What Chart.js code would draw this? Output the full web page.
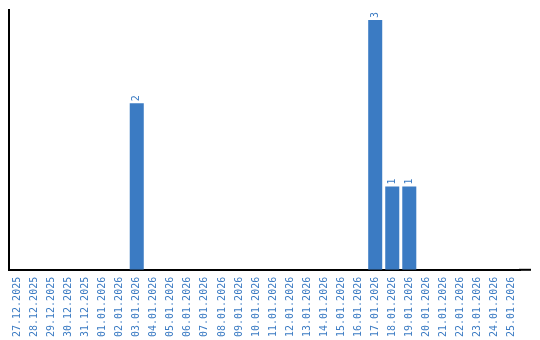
<!DOCTYPE html>
<html>
<head>
<meta charset="utf-8">
<script src="https://cdn.jsdelivr.net/npm/chart.js@4/dist/chart.umd.min.js"></script>
<style>
  html, body { margin: 0; padding: 0; background: #fff; }
  #wrap { width: 540px; height: 340px; }
</style>
</head>
<body>
<div id="wrap"><canvas id="c" width="540" height="340"></canvas></div>
<script>
// Dates shown on the x axis
const dates = [
  '27.12.2025', '28.12.2025', '29.12.2025', '30.12.2025', '31.12.2025',
  '01.01.2026', '02.01.2026', '03.01.2026', '04.01.2026', '05.01.2026',
  '06.01.2026', '07.01.2026', '08.01.2026', '09.01.2026', '10.01.2026',
  '11.01.2026', '12.01.2026', '13.01.2026', '14.01.2026', '15.01.2026',
  '16.01.2026', '17.01.2026', '18.01.2026', '19.01.2026', '20.01.2026',
  '21.01.2026', '22.01.2026', '23.01.2026', '24.01.2026', '25.01.2026',
];
// Count per day
const counts = [
  0, 0, 0, 0, 0,
  0, 0, 2, 0, 0,
  0, 0, 0, 0, 0,
  0, 0, 0, 0, 0,
  0, 3, 1, 1, 0,
  0, 0, 0, 0, 0,
];

const BLUE = '#3b7bc3';
const FONT = "'DejaVu Sans Mono', monospace";

// rotated value labels above non-zero bars
const barLabels = {
  id: 'barLabels',
  afterDatasetsDraw(chart) {
    const { ctx } = chart;
    const meta = chart.getDatasetMeta(0);
    ctx.save();
    ctx.fillStyle = BLUE;
    ctx.font = '10px ' + FONT;
    ctx.textAlign = 'left';
    ctx.textBaseline = 'middle';
    meta.data.forEach((bar, i) => {
      const v = counts[i];
      if (!v) return;
      ctx.save();
      ctx.translate(bar.x, bar.y - 2);
      ctx.rotate(-Math.PI / 2);
      ctx.fillText(String(v), 0, 0);
      ctx.restore();
    });
    ctx.restore();
  },
};

// the x axis line runs a bit past the last category
const axisTail = {
  id: 'axisTail',
  afterDraw(chart) {
    const { ctx, chartArea } = chart;
    ctx.save();
    ctx.strokeStyle = '#000';
    ctx.lineWidth = 2;
    ctx.beginPath();
    ctx.moveTo(chartArea.right - 1, chartArea.bottom);
    ctx.lineTo(531, chartArea.bottom);
    ctx.stroke();
    ctx.restore();
  },
};

new Chart(document.getElementById('c').getContext('2d'), {
  type: 'bar',
  data: {
    labels: dates,
    datasets: [{
      data: counts,
      backgroundColor: BLUE,
      borderWidth: 0,
      categoryPercentage: 14 / 17,
      barPercentage: 1,
    }],
  },
  options: {
    responsive: false,
    animation: false,
    layout: { padding: { left: 9, top: 10, right: 20, bottom: -4 } },
    plugins: { legend: { display: false }, tooltip: { enabled: false } },
    scales: {
      x: {
        grid: { display: false, drawTicks: false },
        border: { display: true, color: '#000', width: 2 },
        ticks: {
          color: BLUE,
          font: { family: FONT, size: 10 },
          minRotation: 90,
          maxRotation: 90,
          autoSkip: false,
          padding: 7,
        },
      },
      y: {
        min: 0,
        max: 3.12,
        grid: { display: false, drawTicks: false },
        border: { display: true, color: '#000', width: 2 },
        ticks: { display: false },
      },
    },
  },
  plugins: [barLabels, axisTail],
});
</script>
</body>
</html>
